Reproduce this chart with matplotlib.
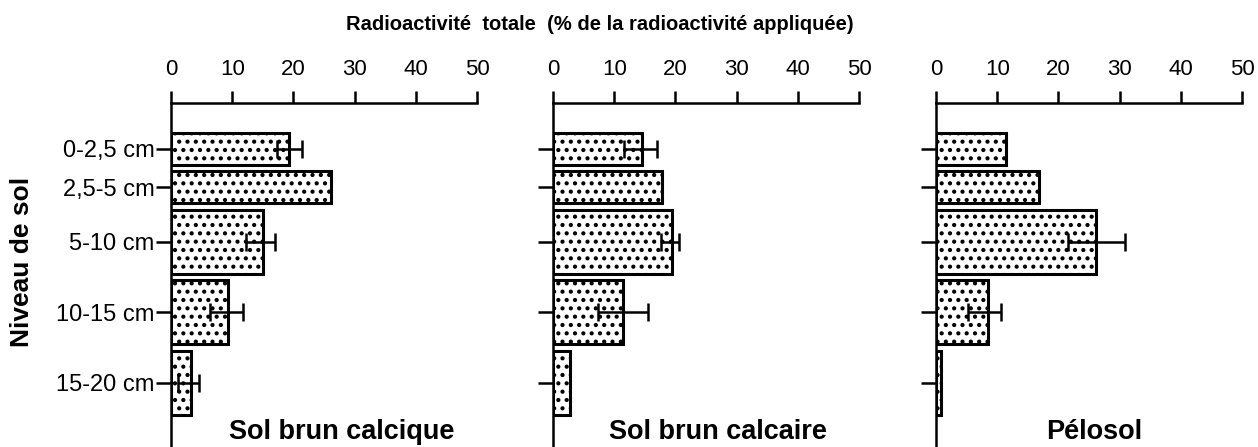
import matplotlib
matplotlib.use("Agg")
import matplotlib.pyplot as plt
import numpy as np

plt.rcParams['font.family'] = ['Liberation Sans', 'DejaVu Sans']
plt.rcParams['hatch.linewidth'] = 1.8

# ---- data ----
depth_labels = ["0-2,5 cm", "2,5-5 cm", "5-10 cm", "10-15 cm", "15-20 cm"]
depth_top = [0, 2.5, 5, 10, 15]
depth_bot = [2.5, 5, 10, 15, 20]

soils = ["Sol brun calcique", "Sol brun calcaire", "Pélosol"]

calcique_val = [19.3, 26.1, 15.0, 9.3, 3.3]
calcique_err_lo = [2.0, 0.0, 2.8, 2.9, 2.2]
calcique_err_hi = [2.1, 0.0, 2.0, 2.5, 1.2]

calcaire_val = [14.5, 17.8, 19.5, 11.5, 2.8]
calcaire_err_lo = [2.9, 0.0, 1.9, 4.2, 0.0]
calcaire_err_hi = [2.5, 0.0, 1.1, 4.0, 0.0]

pelosol_val = [11.5, 16.8, 26.2, 8.5, 0.8]
pelosol_err_lo = [0.0, 0.0, 4.6, 3.3, 0.0]
pelosol_err_hi = [0.0, 0.0, 4.7, 2.1, 0.0]

values = [calcique_val, calcaire_val, pelosol_val]
errs_lo = [calcique_err_lo, calcaire_err_lo, pelosol_err_lo]
errs_hi = [calcique_err_hi, calcaire_err_hi, pelosol_err_hi]

xticks = [0, 10, 20, 30, 40, 50]
title = "Radioactivité  totale  (% de la radioactivité appliquée)"
ylabel = "Niveau de sol"

# ---- layout ----
W, H = 1258, 447
fig = plt.figure(figsize=(W / 100, H / 100), dpi=100)
lefts = [171, 553, 936]
soil_label_x = [0.559, 0.539, 0.516]
ax_w = 306
ax_top = 103
gap = 0.5
px_per_cm = 12.8
y0_px = 133
ylim_top = (ax_top - y0_px) / px_per_cm
ylim_bot = (H - y0_px) / px_per_cm

centers = [(t + b) / 2 + i * gap for i, (t, b) in enumerate(zip(depth_top, depth_bot))]
heights = [(b - t) for t, b in zip(depth_top, depth_bot)]

for k in range(3):
    ax = fig.add_axes([lefts[k] / W, 0, ax_w / W, (H - ax_top) / H])
    ax.barh(centers, values[k], height=heights, left=0, color='white',
            edgecolor='black', linewidth=2.2, hatch='..', zorder=2)
    vals = np.array(values[k])
    lo = np.array(errs_lo[k]); hi = np.array(errs_hi[k])
    mask = (lo + hi) > 0
    ax.errorbar(vals[mask], np.array(centers)[mask], xerr=[lo[mask], hi[mask]],
                fmt='none', ecolor='black', elinewidth=1.8, capsize=6.5,
                capthick=1.8, zorder=3)
    ax.set_xlim(0, 50)
    ax.set_ylim(ylim_bot, ylim_top)
    ax.xaxis.tick_top()
    ax.set_xticks(xticks)
    ax.set_xticklabels([str(v) for v in xticks], fontsize=16)
    ax.tick_params(axis='x', direction='out', length=8.5, width=1.8, pad=8)
    ax.set_yticks(centers)
    if k == 0:
        ax.set_yticklabels(depth_labels, fontsize=17)
    else:
        ax.set_yticklabels([])
    ax.tick_params(axis='y', direction='out', length=11, width=1.8, pad=1)
    for s in ['right', 'bottom']:
        ax.spines[s].set_visible(False)
    for s in ['top', 'left']:
        ax.spines[s].set_linewidth(1.8)
    ax.text(soil_label_x[k], 0.045, soils[k], transform=ax.transAxes,
            ha='center', va='center', fontsize=19.5, fontweight='bold')
    ax.patch.set_alpha(0)

fig.text(600 / W, 1 - 24 / H, title, ha='center', va='center', fontsize=14.5,
         fontweight='bold')
fig.text(22 / W, 1 - 262 / H, ylabel, ha='center', va='center', rotation=90,
         fontsize=19, fontweight='bold')

fig.savefig("out.png", dpi=100)
